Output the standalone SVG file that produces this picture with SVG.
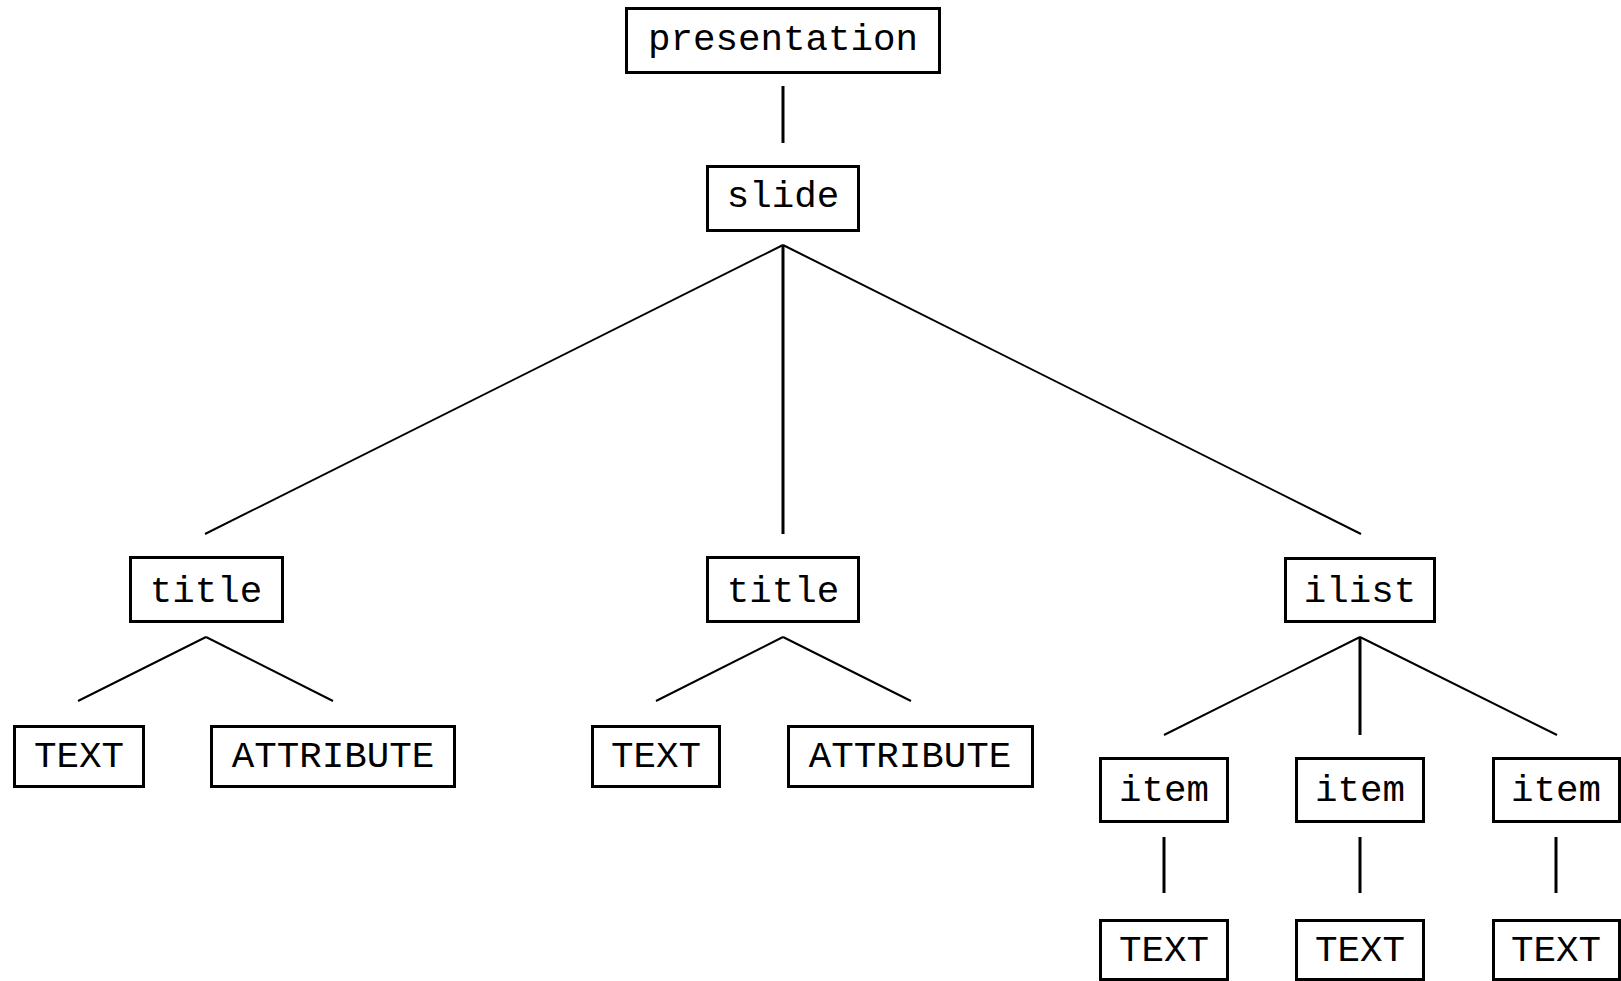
<svg xmlns="http://www.w3.org/2000/svg" width="1621" height="981" viewBox="0 0 1621 981">
<style>
.box{fill:#fff;stroke:#000;stroke-width:3}
.lbl{font-family:"Liberation Mono","Courier New",monospace;font-size:37.5px;fill:#000;text-anchor:middle}
.d{stroke:#000;stroke-width:2;fill:none}
.v{stroke:#000;stroke-width:3;fill:none}
</style>
<rect width="1621" height="981" fill="#fff"/>
<g id="connectors">
<line class="v" x1="783" y1="86" x2="783" y2="143"/>
<line class="d" x1="783" y1="245" x2="205" y2="534"/>
<line class="v" x1="783" y1="245" x2="783" y2="534"/>
<line class="d" x1="783" y1="245" x2="1361" y2="534"/>
<line class="d" x1="206" y1="637" x2="78" y2="701"/>
<line class="d" x1="206" y1="637" x2="333" y2="701"/>
<line class="d" x1="783" y1="637" x2="656" y2="701"/>
<line class="d" x1="783" y1="637" x2="911" y2="701"/>
<line class="d" x1="1360" y1="637" x2="1164" y2="735"/>
<line class="v" x1="1360" y1="637" x2="1360" y2="735"/>
<line class="d" x1="1360" y1="637" x2="1557" y2="735"/>
<line class="v" x1="1164" y1="837" x2="1164" y2="893"/>
<line class="v" x1="1360" y1="837" x2="1360" y2="893"/>
<line class="v" x1="1556" y1="837" x2="1556" y2="893"/>
</g>
<g id="presentation"><rect class="box" x="626.5" y="8.5" width="313" height="64"/><text class="lbl" x="783" y="50">presentation</text></g>
<g id="slide"><rect class="box" x="707.5" y="166.5" width="151" height="64"/><text class="lbl" x="783" y="207">slide</text></g>
<g id="title1"><rect class="box" x="130.5" y="557.5" width="152" height="64"/><text class="lbl" x="206" y="602">title</text></g>
<g id="title2"><rect class="box" x="707.5" y="557.5" width="151" height="64"/><text class="lbl" x="783" y="602">title</text></g>
<g id="ilist"><rect class="box" x="1285.5" y="558.5" width="149" height="63"/><text class="lbl" x="1360" y="602">ilist</text></g>
<g id="text1"><rect class="box" x="14.5" y="726.5" width="129" height="60"/><text class="lbl" x="79" y="767">TEXT</text></g>
<g id="attr1"><rect class="box" x="211.5" y="726.5" width="243" height="60"/><text class="lbl" x="333" y="767">ATTRIBUTE</text></g>
<g id="text2"><rect class="box" x="592.5" y="726.5" width="127" height="60"/><text class="lbl" x="656" y="767">TEXT</text></g>
<g id="attr2"><rect class="box" x="788.5" y="726.5" width="244" height="60"/><text class="lbl" x="910" y="767">ATTRIBUTE</text></g>
<g id="item1"><rect class="box" x="1100.5" y="758.5" width="127" height="63"/><text class="lbl" x="1164" y="801">item</text></g>
<g id="item2"><rect class="box" x="1296.5" y="758.5" width="127" height="63"/><text class="lbl" x="1360" y="801">item</text></g>
<g id="item3"><rect class="box" x="1493.5" y="758.5" width="126" height="63"/><text class="lbl" x="1556" y="801">item</text></g>
<g id="text3"><rect class="box" x="1100.5" y="920.5" width="127" height="59"/><text class="lbl" x="1164" y="961">TEXT</text></g>
<g id="text4"><rect class="box" x="1296.5" y="920.5" width="127" height="59"/><text class="lbl" x="1360" y="961">TEXT</text></g>
<g id="text5"><rect class="box" x="1493.5" y="920.5" width="126" height="59"/><text class="lbl" x="1556" y="961">TEXT</text></g>
</svg>
